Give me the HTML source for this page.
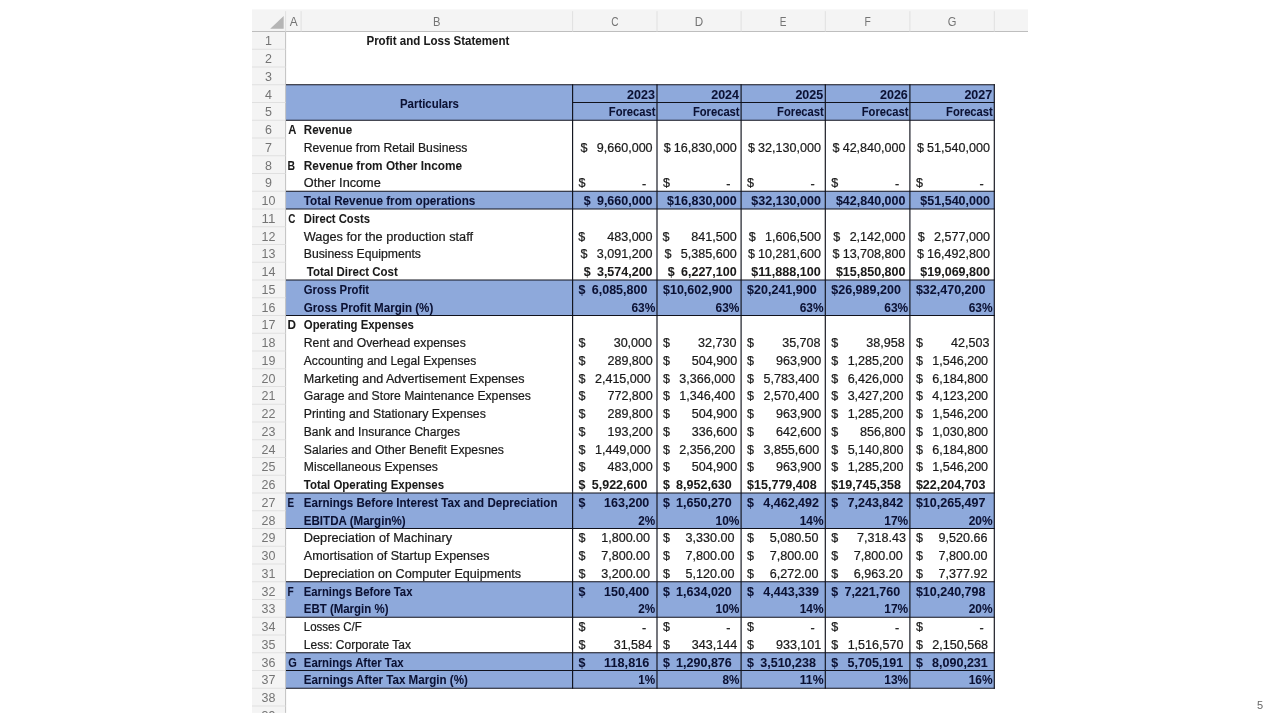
<!DOCTYPE html>
<html lang="en"><head><meta charset="utf-8"><title>Profit and Loss Statement</title>
<style>
html,body{margin:0;padding:0;background:#fff;width:1280px;height:720px;overflow:hidden}
svg{display:block;position:absolute;left:0;top:0}
svg text{font-family:"Liberation Sans",sans-serif;font-size:12.3px;fill:#1a1a1a;white-space:pre}
svg text{stroke:#1a1a1a;stroke-width:0.22px}
svg text[font-weight]{stroke-width:0.05px}
svg text.n{fill:#0b1133;stroke:#0b1133}
svg text.h{fill:#747474;stroke:none}
</style></head><body>
<svg width="1280" height="720" viewBox="0 0 1280 720">
<defs><clipPath id="pic"><rect x="252" y="9.2" width="776" height="703.7"/></clipPath></defs>
<g clip-path="url(#pic)"><g style="filter:blur(0.4px)">
<rect x="252.00" y="9.20" width="776.00" height="22.30" fill="#f4f4f4"/>
<rect x="252.00" y="31.50" width="33.60" height="681.40" fill="#f4f4f4"/>
<rect x="285.60" y="84.75" width="708.70" height="35.50" fill="#8ea9db"/>
<rect x="285.60" y="191.25" width="708.70" height="17.75" fill="#8ea9db"/>
<rect x="285.60" y="280.00" width="708.70" height="35.50" fill="#8ea9db"/>
<rect x="285.60" y="493.00" width="708.70" height="35.50" fill="#8ea9db"/>
<rect x="285.60" y="581.75" width="708.70" height="35.50" fill="#8ea9db"/>
<rect x="285.60" y="652.75" width="708.70" height="35.50" fill="#8ea9db"/>
<line x1="252.00" y1="31.50" x2="1028.00" y2="31.50" stroke="#bebebe" stroke-width="1.00"/>
<line x1="285.60" y1="31.50" x2="285.60" y2="712.90" stroke="#c2c2c2" stroke-width="1.00"/>
<line x1="301.10" y1="11.20" x2="301.10" y2="31.50" stroke="#e0e0e0" stroke-width="1.00"/>
<line x1="572.60" y1="11.20" x2="572.60" y2="31.50" stroke="#e0e0e0" stroke-width="1.00"/>
<line x1="657.00" y1="11.20" x2="657.00" y2="31.50" stroke="#e0e0e0" stroke-width="1.00"/>
<line x1="741.10" y1="11.20" x2="741.10" y2="31.50" stroke="#e0e0e0" stroke-width="1.00"/>
<line x1="825.30" y1="11.20" x2="825.30" y2="31.50" stroke="#e0e0e0" stroke-width="1.00"/>
<line x1="909.90" y1="11.20" x2="909.90" y2="31.50" stroke="#e0e0e0" stroke-width="1.00"/>
<line x1="994.30" y1="11.20" x2="994.30" y2="31.50" stroke="#e0e0e0" stroke-width="1.00"/>
<line x1="285.60" y1="11.20" x2="285.60" y2="31.50" stroke="#e0e0e0" stroke-width="1.00"/>
<line x1="252.00" y1="49.25" x2="285.60" y2="49.25" stroke="#e0e0e0" stroke-width="1.00"/>
<line x1="252.00" y1="67.00" x2="285.60" y2="67.00" stroke="#e0e0e0" stroke-width="1.00"/>
<line x1="252.00" y1="84.75" x2="285.60" y2="84.75" stroke="#e0e0e0" stroke-width="1.00"/>
<line x1="252.00" y1="102.50" x2="285.60" y2="102.50" stroke="#e0e0e0" stroke-width="1.00"/>
<line x1="252.00" y1="120.25" x2="285.60" y2="120.25" stroke="#e0e0e0" stroke-width="1.00"/>
<line x1="252.00" y1="138.00" x2="285.60" y2="138.00" stroke="#e0e0e0" stroke-width="1.00"/>
<line x1="252.00" y1="155.75" x2="285.60" y2="155.75" stroke="#e0e0e0" stroke-width="1.00"/>
<line x1="252.00" y1="173.50" x2="285.60" y2="173.50" stroke="#e0e0e0" stroke-width="1.00"/>
<line x1="252.00" y1="191.25" x2="285.60" y2="191.25" stroke="#e0e0e0" stroke-width="1.00"/>
<line x1="252.00" y1="209.00" x2="285.60" y2="209.00" stroke="#e0e0e0" stroke-width="1.00"/>
<line x1="252.00" y1="226.75" x2="285.60" y2="226.75" stroke="#e0e0e0" stroke-width="1.00"/>
<line x1="252.00" y1="244.50" x2="285.60" y2="244.50" stroke="#e0e0e0" stroke-width="1.00"/>
<line x1="252.00" y1="262.25" x2="285.60" y2="262.25" stroke="#e0e0e0" stroke-width="1.00"/>
<line x1="252.00" y1="280.00" x2="285.60" y2="280.00" stroke="#e0e0e0" stroke-width="1.00"/>
<line x1="252.00" y1="297.75" x2="285.60" y2="297.75" stroke="#e0e0e0" stroke-width="1.00"/>
<line x1="252.00" y1="315.50" x2="285.60" y2="315.50" stroke="#e0e0e0" stroke-width="1.00"/>
<line x1="252.00" y1="333.25" x2="285.60" y2="333.25" stroke="#e0e0e0" stroke-width="1.00"/>
<line x1="252.00" y1="351.00" x2="285.60" y2="351.00" stroke="#e0e0e0" stroke-width="1.00"/>
<line x1="252.00" y1="368.75" x2="285.60" y2="368.75" stroke="#e0e0e0" stroke-width="1.00"/>
<line x1="252.00" y1="386.50" x2="285.60" y2="386.50" stroke="#e0e0e0" stroke-width="1.00"/>
<line x1="252.00" y1="404.25" x2="285.60" y2="404.25" stroke="#e0e0e0" stroke-width="1.00"/>
<line x1="252.00" y1="422.00" x2="285.60" y2="422.00" stroke="#e0e0e0" stroke-width="1.00"/>
<line x1="252.00" y1="439.75" x2="285.60" y2="439.75" stroke="#e0e0e0" stroke-width="1.00"/>
<line x1="252.00" y1="457.50" x2="285.60" y2="457.50" stroke="#e0e0e0" stroke-width="1.00"/>
<line x1="252.00" y1="475.25" x2="285.60" y2="475.25" stroke="#e0e0e0" stroke-width="1.00"/>
<line x1="252.00" y1="493.00" x2="285.60" y2="493.00" stroke="#e0e0e0" stroke-width="1.00"/>
<line x1="252.00" y1="510.75" x2="285.60" y2="510.75" stroke="#e0e0e0" stroke-width="1.00"/>
<line x1="252.00" y1="528.50" x2="285.60" y2="528.50" stroke="#e0e0e0" stroke-width="1.00"/>
<line x1="252.00" y1="546.25" x2="285.60" y2="546.25" stroke="#e0e0e0" stroke-width="1.00"/>
<line x1="252.00" y1="564.00" x2="285.60" y2="564.00" stroke="#e0e0e0" stroke-width="1.00"/>
<line x1="252.00" y1="581.75" x2="285.60" y2="581.75" stroke="#e0e0e0" stroke-width="1.00"/>
<line x1="252.00" y1="599.50" x2="285.60" y2="599.50" stroke="#e0e0e0" stroke-width="1.00"/>
<line x1="252.00" y1="617.25" x2="285.60" y2="617.25" stroke="#e0e0e0" stroke-width="1.00"/>
<line x1="252.00" y1="635.00" x2="285.60" y2="635.00" stroke="#e0e0e0" stroke-width="1.00"/>
<line x1="252.00" y1="652.75" x2="285.60" y2="652.75" stroke="#e0e0e0" stroke-width="1.00"/>
<line x1="252.00" y1="670.50" x2="285.60" y2="670.50" stroke="#e0e0e0" stroke-width="1.00"/>
<line x1="252.00" y1="688.25" x2="285.60" y2="688.25" stroke="#e0e0e0" stroke-width="1.00"/>
<line x1="252.00" y1="706.00" x2="285.60" y2="706.00" stroke="#e0e0e0" stroke-width="1.00"/>
<polygon points="283.7,15.9 283.7,28.7 270.2,28.7" fill="#b5b5b5"/>
<line x1="285.90" y1="84.75" x2="994.88" y2="84.75" stroke="#10121c" stroke-width="1.15"/>
<line x1="285.90" y1="120.25" x2="994.88" y2="120.25" stroke="#10121c" stroke-width="1.15"/>
<line x1="285.90" y1="191.25" x2="994.88" y2="191.25" stroke="#10121c" stroke-width="1.15"/>
<line x1="285.90" y1="209.00" x2="994.88" y2="209.00" stroke="#10121c" stroke-width="1.15"/>
<line x1="285.90" y1="280.00" x2="994.88" y2="280.00" stroke="#10121c" stroke-width="1.15"/>
<line x1="285.90" y1="315.50" x2="994.88" y2="315.50" stroke="#10121c" stroke-width="1.15"/>
<line x1="285.90" y1="493.00" x2="994.88" y2="493.00" stroke="#10121c" stroke-width="1.15"/>
<line x1="285.90" y1="528.50" x2="994.88" y2="528.50" stroke="#10121c" stroke-width="1.15"/>
<line x1="285.90" y1="581.75" x2="994.88" y2="581.75" stroke="#10121c" stroke-width="1.15"/>
<line x1="285.90" y1="617.25" x2="994.88" y2="617.25" stroke="#10121c" stroke-width="1.15"/>
<line x1="285.90" y1="652.75" x2="994.88" y2="652.75" stroke="#10121c" stroke-width="1.15"/>
<line x1="285.90" y1="670.50" x2="994.88" y2="670.50" stroke="#10121c" stroke-width="1.15"/>
<line x1="285.90" y1="688.25" x2="994.88" y2="688.25" stroke="#10121c" stroke-width="1.15"/>
<line x1="572.60" y1="102.50" x2="994.30" y2="102.50" stroke="#10121c" stroke-width="1.15"/>
<line x1="572.60" y1="84.17" x2="572.60" y2="688.83" stroke="#10121c" stroke-width="1.15"/>
<line x1="657.00" y1="84.17" x2="657.00" y2="688.83" stroke="#10121c" stroke-width="1.15"/>
<line x1="741.10" y1="84.17" x2="741.10" y2="688.83" stroke="#10121c" stroke-width="1.15"/>
<line x1="825.30" y1="84.17" x2="825.30" y2="688.83" stroke="#10121c" stroke-width="1.15"/>
<line x1="909.90" y1="84.17" x2="909.90" y2="688.83" stroke="#10121c" stroke-width="1.15"/>
<line x1="994.30" y1="84.17" x2="994.30" y2="688.83" stroke="#10121c" stroke-width="1.15"/>
<text x="289.68" y="25.60" textLength="7.94" lengthAdjust="spacingAndGlyphs" class="h">A</text>
<text x="433.12" y="25.60" textLength="7.46" lengthAdjust="spacingAndGlyphs" class="h">B</text>
<text x="611.14" y="25.60" textLength="7.32" lengthAdjust="spacingAndGlyphs" class="h">C</text>
<text x="694.83" y="25.60" textLength="8.44" lengthAdjust="spacingAndGlyphs" class="h">D</text>
<text x="779.85" y="25.60" textLength="6.70" lengthAdjust="spacingAndGlyphs" class="h">E</text>
<text x="864.45" y="25.60" textLength="6.30" lengthAdjust="spacingAndGlyphs" class="h">F</text>
<text x="947.77" y="25.60" textLength="8.66" lengthAdjust="spacingAndGlyphs" class="h">G</text>
<text x="265.02" y="45.35" textLength="6.95" lengthAdjust="spacingAndGlyphs" class="h">1</text>
<text x="265.02" y="63.10" textLength="6.95" lengthAdjust="spacingAndGlyphs" class="h">2</text>
<text x="265.02" y="80.85" textLength="6.95" lengthAdjust="spacingAndGlyphs" class="h">3</text>
<text x="265.02" y="98.60" textLength="6.95" lengthAdjust="spacingAndGlyphs" class="h">4</text>
<text x="265.02" y="116.35" textLength="6.95" lengthAdjust="spacingAndGlyphs" class="h">5</text>
<text x="265.02" y="134.10" textLength="6.95" lengthAdjust="spacingAndGlyphs" class="h">6</text>
<text x="265.02" y="151.85" textLength="6.95" lengthAdjust="spacingAndGlyphs" class="h">7</text>
<text x="265.02" y="169.60" textLength="6.95" lengthAdjust="spacingAndGlyphs" class="h">8</text>
<text x="265.02" y="187.35" textLength="6.95" lengthAdjust="spacingAndGlyphs" class="h">9</text>
<text x="261.55" y="205.10" textLength="13.91" lengthAdjust="spacingAndGlyphs" class="h">10</text>
<text x="261.55" y="222.85" textLength="13.91" lengthAdjust="spacingAndGlyphs" class="h">11</text>
<text x="261.55" y="240.60" textLength="13.91" lengthAdjust="spacingAndGlyphs" class="h">12</text>
<text x="261.55" y="258.35" textLength="13.91" lengthAdjust="spacingAndGlyphs" class="h">13</text>
<text x="261.55" y="276.10" textLength="13.91" lengthAdjust="spacingAndGlyphs" class="h">14</text>
<text x="261.55" y="293.85" textLength="13.91" lengthAdjust="spacingAndGlyphs" class="h">15</text>
<text x="261.55" y="311.60" textLength="13.91" lengthAdjust="spacingAndGlyphs" class="h">16</text>
<text x="261.55" y="329.35" textLength="13.91" lengthAdjust="spacingAndGlyphs" class="h">17</text>
<text x="261.55" y="347.10" textLength="13.91" lengthAdjust="spacingAndGlyphs" class="h">18</text>
<text x="261.55" y="364.85" textLength="13.91" lengthAdjust="spacingAndGlyphs" class="h">19</text>
<text x="261.55" y="382.60" textLength="13.91" lengthAdjust="spacingAndGlyphs" class="h">20</text>
<text x="261.55" y="400.35" textLength="13.91" lengthAdjust="spacingAndGlyphs" class="h">21</text>
<text x="261.55" y="418.10" textLength="13.91" lengthAdjust="spacingAndGlyphs" class="h">22</text>
<text x="261.55" y="435.85" textLength="13.91" lengthAdjust="spacingAndGlyphs" class="h">23</text>
<text x="261.55" y="453.60" textLength="13.91" lengthAdjust="spacingAndGlyphs" class="h">24</text>
<text x="261.55" y="471.35" textLength="13.91" lengthAdjust="spacingAndGlyphs" class="h">25</text>
<text x="261.55" y="489.10" textLength="13.91" lengthAdjust="spacingAndGlyphs" class="h">26</text>
<text x="261.55" y="506.85" textLength="13.91" lengthAdjust="spacingAndGlyphs" class="h">27</text>
<text x="261.55" y="524.60" textLength="13.91" lengthAdjust="spacingAndGlyphs" class="h">28</text>
<text x="261.55" y="542.35" textLength="13.91" lengthAdjust="spacingAndGlyphs" class="h">29</text>
<text x="261.55" y="560.10" textLength="13.91" lengthAdjust="spacingAndGlyphs" class="h">30</text>
<text x="261.55" y="577.85" textLength="13.91" lengthAdjust="spacingAndGlyphs" class="h">31</text>
<text x="261.55" y="595.60" textLength="13.91" lengthAdjust="spacingAndGlyphs" class="h">32</text>
<text x="261.55" y="613.35" textLength="13.91" lengthAdjust="spacingAndGlyphs" class="h">33</text>
<text x="261.55" y="631.10" textLength="13.91" lengthAdjust="spacingAndGlyphs" class="h">34</text>
<text x="261.55" y="648.85" textLength="13.91" lengthAdjust="spacingAndGlyphs" class="h">35</text>
<text x="261.55" y="666.60" textLength="13.91" lengthAdjust="spacingAndGlyphs" class="h">36</text>
<text x="261.55" y="684.35" textLength="13.91" lengthAdjust="spacingAndGlyphs" class="h">37</text>
<text x="261.55" y="702.10" textLength="13.91" lengthAdjust="spacingAndGlyphs" class="h">38</text>
<text x="261.55" y="719.85" textLength="13.91" lengthAdjust="spacingAndGlyphs" class="h">39</text>
<text x="288.20" y="134.10" font-weight="bold" textLength="8.15" lengthAdjust="spacingAndGlyphs">A</text>
<text x="303.80" y="134.10" font-weight="bold" textLength="48.30" lengthAdjust="spacingAndGlyphs">Revenue</text>
<text x="303.80" y="151.85" textLength="163.56" lengthAdjust="spacingAndGlyphs">Revenue from Retail Business</text>
<text x="287.50" y="169.60" font-weight="bold" textLength="7.54" lengthAdjust="spacingAndGlyphs">B</text>
<text x="303.80" y="169.60" font-weight="bold" textLength="158.30" lengthAdjust="spacingAndGlyphs">Revenue from Other Income</text>
<text x="303.80" y="187.35" textLength="76.97" lengthAdjust="spacingAndGlyphs">Other Income</text>
<text x="303.80" y="205.10" class="n" font-weight="bold" textLength="171.57" lengthAdjust="spacingAndGlyphs">Total Revenue from operations</text>
<text x="288.20" y="222.85" font-weight="bold" textLength="7.12" lengthAdjust="spacingAndGlyphs">C</text>
<text x="303.80" y="222.85" font-weight="bold" textLength="66.11" lengthAdjust="spacingAndGlyphs">Direct Costs</text>
<text x="303.80" y="240.60" textLength="169.24" lengthAdjust="spacingAndGlyphs">Wages for the production staff</text>
<text x="303.80" y="258.35" textLength="117.16" lengthAdjust="spacingAndGlyphs">Business Equipments</text>
<text x="306.80" y="276.10" font-weight="bold" textLength="90.99" lengthAdjust="spacingAndGlyphs">Total Direct Cost</text>
<text x="303.80" y="293.85" class="n" font-weight="bold" textLength="65.31" lengthAdjust="spacingAndGlyphs">Gross Profit</text>
<text x="303.80" y="311.60" class="n" font-weight="bold" textLength="129.50" lengthAdjust="spacingAndGlyphs">Gross Profit Margin (%)</text>
<text x="287.50" y="329.35" font-weight="bold" textLength="8.48" lengthAdjust="spacingAndGlyphs">D</text>
<text x="303.80" y="329.35" font-weight="bold" textLength="110.04" lengthAdjust="spacingAndGlyphs">Operating Expenses</text>
<text x="303.80" y="347.10" textLength="161.94" lengthAdjust="spacingAndGlyphs">Rent and Overhead expenses</text>
<text x="303.80" y="364.85" textLength="172.52" lengthAdjust="spacingAndGlyphs">Accounting and Legal Expenses</text>
<text x="303.80" y="382.60" textLength="220.80" lengthAdjust="spacingAndGlyphs">Marketing and Advertisement Expenses</text>
<text x="303.80" y="400.35" textLength="227.16" lengthAdjust="spacingAndGlyphs">Garage and Store Maintenance Expenses</text>
<text x="303.80" y="418.10" textLength="182.05" lengthAdjust="spacingAndGlyphs">Printing and Stationary Expenses</text>
<text x="303.80" y="435.85" textLength="156.15" lengthAdjust="spacingAndGlyphs">Bank and Insurance Charges</text>
<text x="303.80" y="453.60" textLength="200.12" lengthAdjust="spacingAndGlyphs">Salaries and Other Benefit Expesnes</text>
<text x="303.80" y="471.35" textLength="134.13" lengthAdjust="spacingAndGlyphs">Miscellaneous Expenses</text>
<text x="303.80" y="489.10" font-weight="bold" textLength="140.29" lengthAdjust="spacingAndGlyphs">Total Operating Expenses</text>
<text x="287.50" y="506.85" class="n" font-weight="bold" textLength="6.56" lengthAdjust="spacingAndGlyphs">E</text>
<text x="303.80" y="506.85" class="n" font-weight="bold" textLength="253.66" lengthAdjust="spacingAndGlyphs">Earnings Before Interest Tax and Depreciation</text>
<text x="303.80" y="524.60" class="n" font-weight="bold" textLength="101.80" lengthAdjust="spacingAndGlyphs">EBITDA (Margin%)</text>
<text x="303.80" y="542.35" textLength="148.31" lengthAdjust="spacingAndGlyphs">Depreciation of Machinary</text>
<text x="303.80" y="560.10" textLength="185.73" lengthAdjust="spacingAndGlyphs">Amortisation of Startup Expenses</text>
<text x="303.80" y="577.85" textLength="217.22" lengthAdjust="spacingAndGlyphs">Depreciation on Computer Equipments</text>
<text x="287.50" y="595.60" class="n" font-weight="bold" textLength="6.17" lengthAdjust="spacingAndGlyphs">F</text>
<text x="303.80" y="595.60" class="n" font-weight="bold" textLength="108.60" lengthAdjust="spacingAndGlyphs">Earnings Before Tax</text>
<text x="303.80" y="613.35" class="n" font-weight="bold" textLength="84.65" lengthAdjust="spacingAndGlyphs">EBT (Margin %)</text>
<text x="303.80" y="631.10" textLength="57.95" lengthAdjust="spacingAndGlyphs">Losses C/F</text>
<text x="303.80" y="648.85" textLength="107.20" lengthAdjust="spacingAndGlyphs">Less: Corporate Tax</text>
<text x="288.20" y="666.60" class="n" font-weight="bold" textLength="8.57" lengthAdjust="spacingAndGlyphs">G</text>
<text x="303.80" y="666.60" class="n" font-weight="bold" textLength="99.79" lengthAdjust="spacingAndGlyphs">Earnings After Tax</text>
<text x="303.80" y="684.35" class="n" font-weight="bold" textLength="163.98" lengthAdjust="spacingAndGlyphs">Earnings After Tax Margin (%)</text>
<text x="366.45" y="44.95" font-weight="bold" textLength="142.90" lengthAdjust="spacingAndGlyphs">Profit and Loss Statement</text>
<text x="400.02" y="108.10" class="n" font-weight="bold" textLength="58.96" lengthAdjust="spacingAndGlyphs">Particulars</text>
<text x="627.12" y="98.60" class="n" font-weight="bold" textLength="27.78" lengthAdjust="spacingAndGlyphs">2023</text>
<text x="608.79" y="116.35" class="n" font-weight="bold" textLength="46.71" lengthAdjust="spacingAndGlyphs">Forecast</text>
<text x="711.22" y="98.60" class="n" font-weight="bold" textLength="27.78" lengthAdjust="spacingAndGlyphs">2024</text>
<text x="692.89" y="116.35" class="n" font-weight="bold" textLength="46.71" lengthAdjust="spacingAndGlyphs">Forecast</text>
<text x="795.42" y="98.60" class="n" font-weight="bold" textLength="27.78" lengthAdjust="spacingAndGlyphs">2025</text>
<text x="777.09" y="116.35" class="n" font-weight="bold" textLength="46.71" lengthAdjust="spacingAndGlyphs">Forecast</text>
<text x="880.02" y="98.60" class="n" font-weight="bold" textLength="27.78" lengthAdjust="spacingAndGlyphs">2026</text>
<text x="861.69" y="116.35" class="n" font-weight="bold" textLength="46.71" lengthAdjust="spacingAndGlyphs">Forecast</text>
<text x="964.42" y="98.60" class="n" font-weight="bold" textLength="27.78" lengthAdjust="spacingAndGlyphs">2027</text>
<text x="946.09" y="116.35" class="n" font-weight="bold" textLength="46.71" lengthAdjust="spacingAndGlyphs">Forecast</text>
<text x="580.40" y="151.85" textLength="6.99" lengthAdjust="spacingAndGlyphs">$</text>
<text x="596.75" y="151.85" textLength="55.85" lengthAdjust="spacingAndGlyphs">9,660,000</text>
<text x="663.74" y="151.85" textLength="6.99" lengthAdjust="spacingAndGlyphs">$</text>
<text x="673.86" y="151.85" textLength="62.84" lengthAdjust="spacingAndGlyphs">16,830,000</text>
<text x="747.94" y="151.85" textLength="6.99" lengthAdjust="spacingAndGlyphs">$</text>
<text x="758.06" y="151.85" textLength="62.84" lengthAdjust="spacingAndGlyphs">32,130,000</text>
<text x="832.54" y="151.85" textLength="6.99" lengthAdjust="spacingAndGlyphs">$</text>
<text x="842.66" y="151.85" textLength="62.84" lengthAdjust="spacingAndGlyphs">42,840,000</text>
<text x="916.94" y="151.85" textLength="6.99" lengthAdjust="spacingAndGlyphs">$</text>
<text x="927.06" y="151.85" textLength="62.84" lengthAdjust="spacingAndGlyphs">51,540,000</text>
<text x="583.79" y="205.10" class="n" font-weight="bold" textLength="6.94" lengthAdjust="spacingAndGlyphs">$</text>
<text x="596.93" y="205.10" class="n" font-weight="bold" textLength="55.67" lengthAdjust="spacingAndGlyphs">9,660,000</text>
<text x="667.14" y="205.10" class="n" font-weight="bold" textLength="6.94" lengthAdjust="spacingAndGlyphs">$</text>
<text x="674.09" y="205.10" class="n" font-weight="bold" textLength="62.61" lengthAdjust="spacingAndGlyphs">16,830,000</text>
<text x="751.34" y="205.10" class="n" font-weight="bold" textLength="6.94" lengthAdjust="spacingAndGlyphs">$</text>
<text x="758.29" y="205.10" class="n" font-weight="bold" textLength="62.61" lengthAdjust="spacingAndGlyphs">32,130,000</text>
<text x="835.94" y="205.10" class="n" font-weight="bold" textLength="6.94" lengthAdjust="spacingAndGlyphs">$</text>
<text x="842.89" y="205.10" class="n" font-weight="bold" textLength="62.61" lengthAdjust="spacingAndGlyphs">42,840,000</text>
<text x="920.34" y="205.10" class="n" font-weight="bold" textLength="6.94" lengthAdjust="spacingAndGlyphs">$</text>
<text x="927.29" y="205.10" class="n" font-weight="bold" textLength="62.61" lengthAdjust="spacingAndGlyphs">51,540,000</text>
<text x="578.36" y="240.60" textLength="6.99" lengthAdjust="spacingAndGlyphs">$</text>
<text x="607.19" y="240.60" textLength="45.41" lengthAdjust="spacingAndGlyphs">483,000</text>
<text x="662.46" y="240.60" textLength="6.99" lengthAdjust="spacingAndGlyphs">$</text>
<text x="691.29" y="240.60" textLength="45.41" lengthAdjust="spacingAndGlyphs">841,500</text>
<text x="748.70" y="240.60" textLength="6.99" lengthAdjust="spacingAndGlyphs">$</text>
<text x="765.05" y="240.60" textLength="55.85" lengthAdjust="spacingAndGlyphs">1,606,500</text>
<text x="833.30" y="240.60" textLength="6.99" lengthAdjust="spacingAndGlyphs">$</text>
<text x="849.65" y="240.60" textLength="55.85" lengthAdjust="spacingAndGlyphs">2,142,000</text>
<text x="917.70" y="240.60" textLength="6.99" lengthAdjust="spacingAndGlyphs">$</text>
<text x="934.05" y="240.60" textLength="55.85" lengthAdjust="spacingAndGlyphs">2,577,000</text>
<text x="580.40" y="258.35" textLength="6.99" lengthAdjust="spacingAndGlyphs">$</text>
<text x="596.75" y="258.35" textLength="55.85" lengthAdjust="spacingAndGlyphs">3,091,200</text>
<text x="664.50" y="258.35" textLength="6.99" lengthAdjust="spacingAndGlyphs">$</text>
<text x="680.85" y="258.35" textLength="55.85" lengthAdjust="spacingAndGlyphs">5,385,600</text>
<text x="747.94" y="258.35" textLength="6.99" lengthAdjust="spacingAndGlyphs">$</text>
<text x="758.06" y="258.35" textLength="62.84" lengthAdjust="spacingAndGlyphs">10,281,600</text>
<text x="832.54" y="258.35" textLength="6.99" lengthAdjust="spacingAndGlyphs">$</text>
<text x="842.66" y="258.35" textLength="62.84" lengthAdjust="spacingAndGlyphs">13,708,800</text>
<text x="916.94" y="258.35" textLength="6.99" lengthAdjust="spacingAndGlyphs">$</text>
<text x="927.06" y="258.35" textLength="62.84" lengthAdjust="spacingAndGlyphs">16,492,800</text>
<text x="583.79" y="276.40" font-weight="bold" textLength="6.94" lengthAdjust="spacingAndGlyphs">$</text>
<text x="596.93" y="276.40" font-weight="bold" textLength="55.67" lengthAdjust="spacingAndGlyphs">3,574,200</text>
<text x="667.89" y="276.40" font-weight="bold" textLength="6.94" lengthAdjust="spacingAndGlyphs">$</text>
<text x="681.03" y="276.40" font-weight="bold" textLength="55.67" lengthAdjust="spacingAndGlyphs">6,227,100</text>
<text x="751.34" y="276.40" font-weight="bold" textLength="6.94" lengthAdjust="spacingAndGlyphs">$</text>
<text x="758.29" y="276.40" font-weight="bold" textLength="62.61" lengthAdjust="spacingAndGlyphs">11,888,100</text>
<text x="835.94" y="276.40" font-weight="bold" textLength="6.94" lengthAdjust="spacingAndGlyphs">$</text>
<text x="842.89" y="276.40" font-weight="bold" textLength="62.61" lengthAdjust="spacingAndGlyphs">15,850,800</text>
<text x="920.34" y="276.40" font-weight="bold" textLength="6.94" lengthAdjust="spacingAndGlyphs">$</text>
<text x="927.29" y="276.40" font-weight="bold" textLength="62.61" lengthAdjust="spacingAndGlyphs">19,069,800</text>
<text x="578.60" y="293.85" class="n" font-weight="bold" textLength="6.94" lengthAdjust="spacingAndGlyphs">$</text>
<text x="591.74" y="293.85" class="n" font-weight="bold" textLength="55.67" lengthAdjust="spacingAndGlyphs">6,085,800</text>
<text x="663.00" y="293.85" class="n" font-weight="bold" textLength="6.94" lengthAdjust="spacingAndGlyphs">$</text>
<text x="669.94" y="293.85" class="n" font-weight="bold" textLength="62.61" lengthAdjust="spacingAndGlyphs">10,602,900</text>
<text x="747.10" y="293.85" class="n" font-weight="bold" textLength="6.94" lengthAdjust="spacingAndGlyphs">$</text>
<text x="754.04" y="293.85" class="n" font-weight="bold" textLength="62.61" lengthAdjust="spacingAndGlyphs">20,241,900</text>
<text x="831.30" y="293.85" class="n" font-weight="bold" textLength="6.94" lengthAdjust="spacingAndGlyphs">$</text>
<text x="838.24" y="293.85" class="n" font-weight="bold" textLength="62.61" lengthAdjust="spacingAndGlyphs">26,989,200</text>
<text x="915.90" y="293.85" class="n" font-weight="bold" textLength="6.94" lengthAdjust="spacingAndGlyphs">$</text>
<text x="922.84" y="293.85" class="n" font-weight="bold" textLength="62.61" lengthAdjust="spacingAndGlyphs">32,470,200</text>
<text x="578.60" y="347.10" textLength="6.99" lengthAdjust="spacingAndGlyphs">$</text>
<text x="613.67" y="347.10" textLength="38.42" lengthAdjust="spacingAndGlyphs">30,000</text>
<text x="663.00" y="347.10" textLength="6.99" lengthAdjust="spacingAndGlyphs">$</text>
<text x="698.07" y="347.10" textLength="38.42" lengthAdjust="spacingAndGlyphs">32,730</text>
<text x="747.10" y="347.10" textLength="6.99" lengthAdjust="spacingAndGlyphs">$</text>
<text x="782.17" y="347.10" textLength="38.42" lengthAdjust="spacingAndGlyphs">35,708</text>
<text x="831.30" y="347.10" textLength="6.99" lengthAdjust="spacingAndGlyphs">$</text>
<text x="866.37" y="347.10" textLength="38.42" lengthAdjust="spacingAndGlyphs">38,958</text>
<text x="915.90" y="347.10" textLength="6.99" lengthAdjust="spacingAndGlyphs">$</text>
<text x="950.97" y="347.10" textLength="38.42" lengthAdjust="spacingAndGlyphs">42,503</text>
<text x="578.60" y="364.85" textLength="6.99" lengthAdjust="spacingAndGlyphs">$</text>
<text x="607.43" y="364.85" textLength="45.41" lengthAdjust="spacingAndGlyphs">289,800</text>
<text x="663.00" y="364.85" textLength="6.99" lengthAdjust="spacingAndGlyphs">$</text>
<text x="691.83" y="364.85" textLength="45.41" lengthAdjust="spacingAndGlyphs">504,900</text>
<text x="747.10" y="364.85" textLength="6.99" lengthAdjust="spacingAndGlyphs">$</text>
<text x="775.93" y="364.85" textLength="45.41" lengthAdjust="spacingAndGlyphs">963,900</text>
<text x="831.30" y="364.85" textLength="6.99" lengthAdjust="spacingAndGlyphs">$</text>
<text x="847.65" y="364.85" textLength="55.85" lengthAdjust="spacingAndGlyphs">1,285,200</text>
<text x="915.90" y="364.85" textLength="6.99" lengthAdjust="spacingAndGlyphs">$</text>
<text x="932.25" y="364.85" textLength="55.85" lengthAdjust="spacingAndGlyphs">1,546,200</text>
<text x="578.60" y="382.60" textLength="6.99" lengthAdjust="spacingAndGlyphs">$</text>
<text x="594.95" y="382.60" textLength="55.85" lengthAdjust="spacingAndGlyphs">2,415,000</text>
<text x="663.00" y="382.60" textLength="6.99" lengthAdjust="spacingAndGlyphs">$</text>
<text x="679.35" y="382.60" textLength="55.85" lengthAdjust="spacingAndGlyphs">3,366,000</text>
<text x="747.10" y="382.60" textLength="6.99" lengthAdjust="spacingAndGlyphs">$</text>
<text x="763.45" y="382.60" textLength="55.85" lengthAdjust="spacingAndGlyphs">5,783,400</text>
<text x="831.30" y="382.60" textLength="6.99" lengthAdjust="spacingAndGlyphs">$</text>
<text x="847.65" y="382.60" textLength="55.85" lengthAdjust="spacingAndGlyphs">6,426,000</text>
<text x="915.90" y="382.60" textLength="6.99" lengthAdjust="spacingAndGlyphs">$</text>
<text x="932.25" y="382.60" textLength="55.85" lengthAdjust="spacingAndGlyphs">6,184,800</text>
<text x="578.60" y="400.35" textLength="6.99" lengthAdjust="spacingAndGlyphs">$</text>
<text x="607.43" y="400.35" textLength="45.41" lengthAdjust="spacingAndGlyphs">772,800</text>
<text x="663.00" y="400.35" textLength="6.99" lengthAdjust="spacingAndGlyphs">$</text>
<text x="679.35" y="400.35" textLength="55.85" lengthAdjust="spacingAndGlyphs">1,346,400</text>
<text x="747.10" y="400.35" textLength="6.99" lengthAdjust="spacingAndGlyphs">$</text>
<text x="763.45" y="400.35" textLength="55.85" lengthAdjust="spacingAndGlyphs">2,570,400</text>
<text x="831.30" y="400.35" textLength="6.99" lengthAdjust="spacingAndGlyphs">$</text>
<text x="847.65" y="400.35" textLength="55.85" lengthAdjust="spacingAndGlyphs">3,427,200</text>
<text x="915.90" y="400.35" textLength="6.99" lengthAdjust="spacingAndGlyphs">$</text>
<text x="932.25" y="400.35" textLength="55.85" lengthAdjust="spacingAndGlyphs">4,123,200</text>
<text x="578.60" y="418.10" textLength="6.99" lengthAdjust="spacingAndGlyphs">$</text>
<text x="607.43" y="418.10" textLength="45.41" lengthAdjust="spacingAndGlyphs">289,800</text>
<text x="663.00" y="418.10" textLength="6.99" lengthAdjust="spacingAndGlyphs">$</text>
<text x="691.83" y="418.10" textLength="45.41" lengthAdjust="spacingAndGlyphs">504,900</text>
<text x="747.10" y="418.10" textLength="6.99" lengthAdjust="spacingAndGlyphs">$</text>
<text x="775.93" y="418.10" textLength="45.41" lengthAdjust="spacingAndGlyphs">963,900</text>
<text x="831.30" y="418.10" textLength="6.99" lengthAdjust="spacingAndGlyphs">$</text>
<text x="847.65" y="418.10" textLength="55.85" lengthAdjust="spacingAndGlyphs">1,285,200</text>
<text x="915.90" y="418.10" textLength="6.99" lengthAdjust="spacingAndGlyphs">$</text>
<text x="932.25" y="418.10" textLength="55.85" lengthAdjust="spacingAndGlyphs">1,546,200</text>
<text x="578.60" y="435.85" textLength="6.99" lengthAdjust="spacingAndGlyphs">$</text>
<text x="607.43" y="435.85" textLength="45.41" lengthAdjust="spacingAndGlyphs">193,200</text>
<text x="663.00" y="435.85" textLength="6.99" lengthAdjust="spacingAndGlyphs">$</text>
<text x="691.83" y="435.85" textLength="45.41" lengthAdjust="spacingAndGlyphs">336,600</text>
<text x="747.10" y="435.85" textLength="6.99" lengthAdjust="spacingAndGlyphs">$</text>
<text x="775.93" y="435.85" textLength="45.41" lengthAdjust="spacingAndGlyphs">642,600</text>
<text x="831.30" y="435.85" textLength="6.99" lengthAdjust="spacingAndGlyphs">$</text>
<text x="860.13" y="435.85" textLength="45.41" lengthAdjust="spacingAndGlyphs">856,800</text>
<text x="915.90" y="435.85" textLength="6.99" lengthAdjust="spacingAndGlyphs">$</text>
<text x="932.25" y="435.85" textLength="55.85" lengthAdjust="spacingAndGlyphs">1,030,800</text>
<text x="578.60" y="453.60" textLength="6.99" lengthAdjust="spacingAndGlyphs">$</text>
<text x="594.95" y="453.60" textLength="55.85" lengthAdjust="spacingAndGlyphs">1,449,000</text>
<text x="663.00" y="453.60" textLength="6.99" lengthAdjust="spacingAndGlyphs">$</text>
<text x="679.35" y="453.60" textLength="55.85" lengthAdjust="spacingAndGlyphs">2,356,200</text>
<text x="747.10" y="453.60" textLength="6.99" lengthAdjust="spacingAndGlyphs">$</text>
<text x="763.45" y="453.60" textLength="55.85" lengthAdjust="spacingAndGlyphs">3,855,600</text>
<text x="831.30" y="453.60" textLength="6.99" lengthAdjust="spacingAndGlyphs">$</text>
<text x="847.65" y="453.60" textLength="55.85" lengthAdjust="spacingAndGlyphs">5,140,800</text>
<text x="915.90" y="453.60" textLength="6.99" lengthAdjust="spacingAndGlyphs">$</text>
<text x="932.25" y="453.60" textLength="55.85" lengthAdjust="spacingAndGlyphs">6,184,800</text>
<text x="578.60" y="471.35" textLength="6.99" lengthAdjust="spacingAndGlyphs">$</text>
<text x="607.43" y="471.35" textLength="45.41" lengthAdjust="spacingAndGlyphs">483,000</text>
<text x="663.00" y="471.35" textLength="6.99" lengthAdjust="spacingAndGlyphs">$</text>
<text x="691.83" y="471.35" textLength="45.41" lengthAdjust="spacingAndGlyphs">504,900</text>
<text x="747.10" y="471.35" textLength="6.99" lengthAdjust="spacingAndGlyphs">$</text>
<text x="775.93" y="471.35" textLength="45.41" lengthAdjust="spacingAndGlyphs">963,900</text>
<text x="831.30" y="471.35" textLength="6.99" lengthAdjust="spacingAndGlyphs">$</text>
<text x="847.65" y="471.35" textLength="55.85" lengthAdjust="spacingAndGlyphs">1,285,200</text>
<text x="915.90" y="471.35" textLength="6.99" lengthAdjust="spacingAndGlyphs">$</text>
<text x="932.25" y="471.35" textLength="55.85" lengthAdjust="spacingAndGlyphs">1,546,200</text>
<text x="578.60" y="489.10" font-weight="bold" textLength="6.94" lengthAdjust="spacingAndGlyphs">$</text>
<text x="591.74" y="489.10" font-weight="bold" textLength="55.67" lengthAdjust="spacingAndGlyphs">5,922,600</text>
<text x="663.00" y="489.10" font-weight="bold" textLength="6.94" lengthAdjust="spacingAndGlyphs">$</text>
<text x="676.14" y="489.10" font-weight="bold" textLength="55.67" lengthAdjust="spacingAndGlyphs">8,952,630</text>
<text x="747.10" y="489.10" font-weight="bold" textLength="6.94" lengthAdjust="spacingAndGlyphs">$</text>
<text x="754.04" y="489.10" font-weight="bold" textLength="62.61" lengthAdjust="spacingAndGlyphs">15,779,408</text>
<text x="831.30" y="489.10" font-weight="bold" textLength="6.94" lengthAdjust="spacingAndGlyphs">$</text>
<text x="838.24" y="489.10" font-weight="bold" textLength="62.61" lengthAdjust="spacingAndGlyphs">19,745,358</text>
<text x="915.90" y="489.10" font-weight="bold" textLength="6.94" lengthAdjust="spacingAndGlyphs">$</text>
<text x="922.84" y="489.10" font-weight="bold" textLength="62.61" lengthAdjust="spacingAndGlyphs">22,204,703</text>
<text x="578.60" y="506.85" class="n" font-weight="bold" textLength="6.94" lengthAdjust="spacingAndGlyphs">$</text>
<text x="604.13" y="506.85" class="n" font-weight="bold" textLength="45.19" lengthAdjust="spacingAndGlyphs">163,200</text>
<text x="663.00" y="506.85" class="n" font-weight="bold" textLength="6.94" lengthAdjust="spacingAndGlyphs">$</text>
<text x="676.14" y="506.85" class="n" font-weight="bold" textLength="55.67" lengthAdjust="spacingAndGlyphs">1,650,270</text>
<text x="747.10" y="506.85" class="n" font-weight="bold" textLength="6.94" lengthAdjust="spacingAndGlyphs">$</text>
<text x="763.34" y="506.85" class="n" font-weight="bold" textLength="55.67" lengthAdjust="spacingAndGlyphs">4,462,492</text>
<text x="831.30" y="506.85" class="n" font-weight="bold" textLength="6.94" lengthAdjust="spacingAndGlyphs">$</text>
<text x="847.54" y="506.85" class="n" font-weight="bold" textLength="55.67" lengthAdjust="spacingAndGlyphs">7,243,842</text>
<text x="915.90" y="506.85" class="n" font-weight="bold" textLength="6.94" lengthAdjust="spacingAndGlyphs">$</text>
<text x="922.84" y="506.85" class="n" font-weight="bold" textLength="62.61" lengthAdjust="spacingAndGlyphs">10,265,497</text>
<text x="578.60" y="542.35" textLength="6.99" lengthAdjust="spacingAndGlyphs">$</text>
<text x="601.19" y="542.35" textLength="48.89" lengthAdjust="spacingAndGlyphs">1,800.00</text>
<text x="663.00" y="542.35" textLength="6.99" lengthAdjust="spacingAndGlyphs">$</text>
<text x="685.59" y="542.35" textLength="48.89" lengthAdjust="spacingAndGlyphs">3,330.00</text>
<text x="747.10" y="542.35" textLength="6.99" lengthAdjust="spacingAndGlyphs">$</text>
<text x="769.69" y="542.35" textLength="48.89" lengthAdjust="spacingAndGlyphs">5,080.50</text>
<text x="831.30" y="542.35" textLength="6.99" lengthAdjust="spacingAndGlyphs">$</text>
<text x="857.01" y="542.35" textLength="48.89" lengthAdjust="spacingAndGlyphs">7,318.43</text>
<text x="915.90" y="542.35" textLength="6.99" lengthAdjust="spacingAndGlyphs">$</text>
<text x="938.49" y="542.35" textLength="48.89" lengthAdjust="spacingAndGlyphs">9,520.66</text>
<text x="578.60" y="560.10" textLength="6.99" lengthAdjust="spacingAndGlyphs">$</text>
<text x="601.19" y="560.10" textLength="48.89" lengthAdjust="spacingAndGlyphs">7,800.00</text>
<text x="663.00" y="560.10" textLength="6.99" lengthAdjust="spacingAndGlyphs">$</text>
<text x="685.59" y="560.10" textLength="48.89" lengthAdjust="spacingAndGlyphs">7,800.00</text>
<text x="747.10" y="560.10" textLength="6.99" lengthAdjust="spacingAndGlyphs">$</text>
<text x="769.69" y="560.10" textLength="48.89" lengthAdjust="spacingAndGlyphs">7,800.00</text>
<text x="831.30" y="560.10" textLength="6.99" lengthAdjust="spacingAndGlyphs">$</text>
<text x="853.89" y="560.10" textLength="48.89" lengthAdjust="spacingAndGlyphs">7,800.00</text>
<text x="915.90" y="560.10" textLength="6.99" lengthAdjust="spacingAndGlyphs">$</text>
<text x="938.49" y="560.10" textLength="48.89" lengthAdjust="spacingAndGlyphs">7,800.00</text>
<text x="578.60" y="577.85" textLength="6.99" lengthAdjust="spacingAndGlyphs">$</text>
<text x="601.19" y="577.85" textLength="48.89" lengthAdjust="spacingAndGlyphs">3,200.00</text>
<text x="663.00" y="577.85" textLength="6.99" lengthAdjust="spacingAndGlyphs">$</text>
<text x="685.59" y="577.85" textLength="48.89" lengthAdjust="spacingAndGlyphs">5,120.00</text>
<text x="747.10" y="577.85" textLength="6.99" lengthAdjust="spacingAndGlyphs">$</text>
<text x="769.69" y="577.85" textLength="48.89" lengthAdjust="spacingAndGlyphs">6,272.00</text>
<text x="831.30" y="577.85" textLength="6.99" lengthAdjust="spacingAndGlyphs">$</text>
<text x="853.89" y="577.85" textLength="48.89" lengthAdjust="spacingAndGlyphs">6,963.20</text>
<text x="915.90" y="577.85" textLength="6.99" lengthAdjust="spacingAndGlyphs">$</text>
<text x="938.49" y="577.85" textLength="48.89" lengthAdjust="spacingAndGlyphs">7,377.92</text>
<text x="578.60" y="595.60" class="n" font-weight="bold" textLength="6.94" lengthAdjust="spacingAndGlyphs">$</text>
<text x="604.13" y="595.60" class="n" font-weight="bold" textLength="45.19" lengthAdjust="spacingAndGlyphs">150,400</text>
<text x="663.00" y="595.60" class="n" font-weight="bold" textLength="6.94" lengthAdjust="spacingAndGlyphs">$</text>
<text x="676.14" y="595.60" class="n" font-weight="bold" textLength="55.67" lengthAdjust="spacingAndGlyphs">1,634,020</text>
<text x="747.10" y="595.60" class="n" font-weight="bold" textLength="6.94" lengthAdjust="spacingAndGlyphs">$</text>
<text x="763.34" y="595.60" class="n" font-weight="bold" textLength="55.67" lengthAdjust="spacingAndGlyphs">4,443,339</text>
<text x="831.30" y="595.60" class="n" font-weight="bold" textLength="6.94" lengthAdjust="spacingAndGlyphs">$</text>
<text x="844.44" y="595.60" class="n" font-weight="bold" textLength="55.67" lengthAdjust="spacingAndGlyphs">7,221,760</text>
<text x="915.90" y="595.60" class="n" font-weight="bold" textLength="6.94" lengthAdjust="spacingAndGlyphs">$</text>
<text x="922.84" y="595.60" class="n" font-weight="bold" textLength="62.61" lengthAdjust="spacingAndGlyphs">10,240,798</text>
<text x="578.60" y="648.85" textLength="6.99" lengthAdjust="spacingAndGlyphs">$</text>
<text x="613.67" y="648.85" textLength="38.42" lengthAdjust="spacingAndGlyphs">31,584</text>
<text x="663.00" y="648.85" textLength="6.99" lengthAdjust="spacingAndGlyphs">$</text>
<text x="691.83" y="648.85" textLength="45.41" lengthAdjust="spacingAndGlyphs">343,144</text>
<text x="747.10" y="648.85" textLength="6.99" lengthAdjust="spacingAndGlyphs">$</text>
<text x="775.93" y="648.85" textLength="45.41" lengthAdjust="spacingAndGlyphs">933,101</text>
<text x="831.30" y="648.85" textLength="6.99" lengthAdjust="spacingAndGlyphs">$</text>
<text x="847.65" y="648.85" textLength="55.85" lengthAdjust="spacingAndGlyphs">1,516,570</text>
<text x="915.90" y="648.85" textLength="6.99" lengthAdjust="spacingAndGlyphs">$</text>
<text x="932.25" y="648.85" textLength="55.85" lengthAdjust="spacingAndGlyphs">2,150,568</text>
<text x="578.60" y="666.60" class="n" font-weight="bold" textLength="6.94" lengthAdjust="spacingAndGlyphs">$</text>
<text x="604.13" y="666.60" class="n" font-weight="bold" textLength="45.19" lengthAdjust="spacingAndGlyphs">118,816</text>
<text x="663.00" y="666.60" class="n" font-weight="bold" textLength="6.94" lengthAdjust="spacingAndGlyphs">$</text>
<text x="676.14" y="666.60" class="n" font-weight="bold" textLength="55.67" lengthAdjust="spacingAndGlyphs">1,290,876</text>
<text x="747.10" y="666.60" class="n" font-weight="bold" textLength="6.94" lengthAdjust="spacingAndGlyphs">$</text>
<text x="760.24" y="666.60" class="n" font-weight="bold" textLength="55.67" lengthAdjust="spacingAndGlyphs">3,510,238</text>
<text x="831.30" y="666.60" class="n" font-weight="bold" textLength="6.94" lengthAdjust="spacingAndGlyphs">$</text>
<text x="847.54" y="666.60" class="n" font-weight="bold" textLength="55.67" lengthAdjust="spacingAndGlyphs">5,705,191</text>
<text x="915.90" y="666.60" class="n" font-weight="bold" textLength="6.94" lengthAdjust="spacingAndGlyphs">$</text>
<text x="932.14" y="666.60" class="n" font-weight="bold" textLength="55.67" lengthAdjust="spacingAndGlyphs">8,090,231</text>
<text x="578.60" y="187.35" textLength="6.99" lengthAdjust="spacingAndGlyphs">$</text>
<text x="642.10" y="188.25" textLength="4.22" lengthAdjust="spacingAndGlyphs">-</text>
<text x="663.00" y="187.35" textLength="6.99" lengthAdjust="spacingAndGlyphs">$</text>
<text x="726.20" y="188.25" textLength="4.22" lengthAdjust="spacingAndGlyphs">-</text>
<text x="747.10" y="187.35" textLength="6.99" lengthAdjust="spacingAndGlyphs">$</text>
<text x="810.40" y="188.25" textLength="4.22" lengthAdjust="spacingAndGlyphs">-</text>
<text x="831.30" y="187.35" textLength="6.99" lengthAdjust="spacingAndGlyphs">$</text>
<text x="895.00" y="188.25" textLength="4.22" lengthAdjust="spacingAndGlyphs">-</text>
<text x="915.90" y="187.35" textLength="6.99" lengthAdjust="spacingAndGlyphs">$</text>
<text x="979.40" y="188.25" textLength="4.22" lengthAdjust="spacingAndGlyphs">-</text>
<text x="578.60" y="631.10" textLength="6.99" lengthAdjust="spacingAndGlyphs">$</text>
<text x="642.10" y="632.00" textLength="4.22" lengthAdjust="spacingAndGlyphs">-</text>
<text x="663.00" y="631.10" textLength="6.99" lengthAdjust="spacingAndGlyphs">$</text>
<text x="726.20" y="632.00" textLength="4.22" lengthAdjust="spacingAndGlyphs">-</text>
<text x="747.10" y="631.10" textLength="6.99" lengthAdjust="spacingAndGlyphs">$</text>
<text x="810.40" y="632.00" textLength="4.22" lengthAdjust="spacingAndGlyphs">-</text>
<text x="831.30" y="631.10" textLength="6.99" lengthAdjust="spacingAndGlyphs">$</text>
<text x="895.00" y="632.00" textLength="4.22" lengthAdjust="spacingAndGlyphs">-</text>
<text x="915.90" y="631.10" textLength="6.99" lengthAdjust="spacingAndGlyphs">$</text>
<text x="979.40" y="632.00" textLength="4.22" lengthAdjust="spacingAndGlyphs">-</text>
<text x="631.43" y="311.60" class="n" font-weight="bold" textLength="23.87" lengthAdjust="spacingAndGlyphs">63%</text>
<text x="715.53" y="311.60" class="n" font-weight="bold" textLength="23.87" lengthAdjust="spacingAndGlyphs">63%</text>
<text x="799.73" y="311.60" class="n" font-weight="bold" textLength="23.87" lengthAdjust="spacingAndGlyphs">63%</text>
<text x="884.33" y="311.60" class="n" font-weight="bold" textLength="23.87" lengthAdjust="spacingAndGlyphs">63%</text>
<text x="968.73" y="311.60" class="n" font-weight="bold" textLength="23.87" lengthAdjust="spacingAndGlyphs">63%</text>
<text x="638.37" y="524.60" class="n" font-weight="bold" textLength="16.93" lengthAdjust="spacingAndGlyphs">2%</text>
<text x="715.53" y="524.60" class="n" font-weight="bold" textLength="23.87" lengthAdjust="spacingAndGlyphs">10%</text>
<text x="799.73" y="524.60" class="n" font-weight="bold" textLength="23.87" lengthAdjust="spacingAndGlyphs">14%</text>
<text x="884.33" y="524.60" class="n" font-weight="bold" textLength="23.87" lengthAdjust="spacingAndGlyphs">17%</text>
<text x="968.73" y="524.60" class="n" font-weight="bold" textLength="23.87" lengthAdjust="spacingAndGlyphs">20%</text>
<text x="638.37" y="613.35" class="n" font-weight="bold" textLength="16.93" lengthAdjust="spacingAndGlyphs">2%</text>
<text x="715.53" y="613.35" class="n" font-weight="bold" textLength="23.87" lengthAdjust="spacingAndGlyphs">10%</text>
<text x="799.73" y="613.35" class="n" font-weight="bold" textLength="23.87" lengthAdjust="spacingAndGlyphs">14%</text>
<text x="884.33" y="613.35" class="n" font-weight="bold" textLength="23.87" lengthAdjust="spacingAndGlyphs">17%</text>
<text x="968.73" y="613.35" class="n" font-weight="bold" textLength="23.87" lengthAdjust="spacingAndGlyphs">20%</text>
<text x="638.37" y="684.35" class="n" font-weight="bold" textLength="16.93" lengthAdjust="spacingAndGlyphs">1%</text>
<text x="722.47" y="684.35" class="n" font-weight="bold" textLength="16.93" lengthAdjust="spacingAndGlyphs">8%</text>
<text x="799.73" y="684.35" class="n" font-weight="bold" textLength="23.87" lengthAdjust="spacingAndGlyphs">11%</text>
<text x="884.33" y="684.35" class="n" font-weight="bold" textLength="23.87" lengthAdjust="spacingAndGlyphs">13%</text>
<text x="968.73" y="684.35" class="n" font-weight="bold" textLength="23.87" lengthAdjust="spacingAndGlyphs">16%</text>
</g></g>
<text x="1257" y="709" style="font-size:11px;fill:#666;stroke:none">5</text>
</svg>
</body></html>
